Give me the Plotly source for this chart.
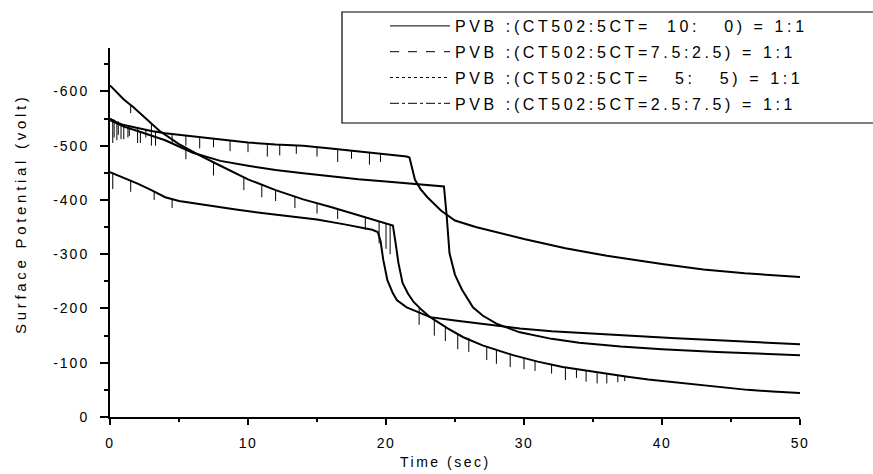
import plotly.graph_objects as go

# ---------------- data ----------------
legend_labels = [
    "PVB :(CT502:5CT=\u00a0\u00a010:\u00a0\u00a0\u00a00) = 1:1",
    "PVB :(CT502:5CT=7.5:2.5) = 1:1",
    "PVB :(CT502:5CT=\u00a0\u00a0\u00a05:\u00a0\u00a0\u00a05) = 1:1",
    "PVB :(CT502:5CT=2.5:7.5) = 1:1",
]
legend_dash = ["solid", "dash", "dot", "dashdot"]

# curve 1 : 10:0
t1 = [0, 0.5, 1, 2, 3, 4, 6, 8, 10, 12, 14, 16, 18, 20, 21.5, 21.7, 21.9, 22.1, 22.5,
      23, 24, 25, 26.5, 28, 30, 33, 36, 40, 43, 46, 50]
v1 = [-550, -543, -538, -532, -527, -523, -517, -511, -506, -502, -500, -495, -490, -485,
      -480, -478, -460, -437, -420, -405, -380, -362, -350, -340, -328, -311, -297, -282,
      -272, -265, -258]
# curve 2 : 7.5:2.5
t2 = [0, 1, 2, 4, 6, 8, 10, 12, 14, 16, 18, 20, 22, 24.2, 24.4, 24.6, 25, 25.5, 26.3, 27,
      28, 29.7, 32, 34, 37, 40, 44, 47, 50]
v2 = [-547, -535, -527, -510, -487, -472, -463, -455, -449, -443, -438, -434, -430, -425,
      -370, -302, -262, -235, -202, -187, -172, -156, -144, -137, -130, -125, -120, -117, -114]
# curve 3 : 5:5
t3 = [0, 0.5, 1, 1.7, 2.5, 3.6, 5, 6.5, 8, 10, 12, 14, 16, 17.5, 19, 20, 20.5, 20.7, 20.9,
      21.2, 21.6, 22, 22.6, 23.2, 24.5, 25.6, 27, 29.2, 31, 32.8, 35, 37.5, 39, 41.3, 44,
      46.2, 48, 50]
v3 = [-611, -597, -585, -571, -552, -527, -503, -482, -463, -438, -418, -401, -387, -376,
      -364, -357, -353, -320, -284, -247, -227, -212, -197, -184, -163, -147, -132, -114,
      -102, -92, -83, -74, -69, -63, -56, -50, -47, -44]
# curve 4 : 2.5:7.5
t4 = [0, 0.5, 1, 2, 3, 4, 5, 7, 9, 11, 13, 15, 17, 19, 19.4, 19.6, 19.8, 20.1, 20.5, 20.8,
      21.5, 22, 23.2, 25, 26.8, 29.7, 32, 34, 36.5, 38.9, 41, 43.7, 47, 50]
v4 = [-451, -446, -440, -430, -418, -405, -398, -390, -383, -376, -370, -364, -355, -345,
      -341, -325, -290, -252, -228, -215, -202, -197, -184, -178, -172, -163, -158, -155,
      -151, -147, -145, -142, -138, -134]

# noise spikes: time, value on the curve, value at the spike tip
spike1_t = [0.3, 0.6, 1.0, 1.4, 2.0, 2.6, 3.3, 4.5, 5.5, 6.5, 7.5, 8.7, 10, 11.4, 12.3, 13.5,
            15, 16.5, 17.5, 18.8, 19.6]
spike1_base = [-548, -545, -540, -537, -532, -530, -526, -521, -518, -515, -512, -510, -506,
               -504, -502, -500, -497, -493, -491, -488, -486]
spike1_tip = [-515, -520, -512, -518, -505, -515, -500, -505, -500, -495, -497, -490, -488,
              -480, -482, -485, -480, -470, -476, -465, -470]
spike3_t = [1.5, 3, 5.5, 7.5, 9.7, 11, 12, 13.4, 15, 16.5, 18.5, 19.5, 20, 20.3,
            22.4, 23.5, 24.3, 25.2, 26, 27.3, 28, 29, 30, 30.8, 32, 33, 33.8, 34.5, 35.3,
            36, 36.8, 37.3]
spike3_base = [-575, -540, -497, -469, -442, -428, -418, -406, -393, -383, -368, -360, -357,
               -355, -200, -181, -168, -154, -146, -130, -124, -116, -109, -104, -98, -92,
               -89, -86, -83, -80, -77, -75]
spike3_tip = [-560, -520, -475, -445, -418, -405, -398, -385, -375, -365, -345, -320, -310,
              -300, -170, -150, -140, -125, -120, -105, -98, -92, -88, -85, -80, -68, -72,
              -65, -62, -62, -64, -66]
spike2_t = [0.2, 0.5, 0.8, 1.3, 2.2, 3.0]
spike2_base = [-546, -542, -538, -533, -526, -520]
spike2_tip = [-505, -510, -512, -515, -505, -500]
spike4_t = [0.2, 1.5, 3.2, 4.5]
spike4_base = [-450, -435, -416, -402]
spike4_tip = [-420, -415, -400, -385]

x_ticks = [0, 10, 20, 30, 40, 50]
y_ticks = [0, -100, -200, -300, -400, -500, -600]

# ---------------- figure ----------------
FONT = "Liberation Sans, Arial, sans-serif"


def spaced(s, px):
    return '<span style="letter-spacing:%spx">%s</span>' % (px, s)


def spikes(ts, bs, tips):
    xs, ys = [], []
    for t, b, p in zip(ts, bs, tips):
        xs += [t, t, None]
        ys += [b, p, None]
    return xs, ys


fig = go.Figure()
for t, v in [(t1, v1), (t2, v2), (t3, v3), (t4, v4)]:
    fig.add_trace(go.Scatter(x=t, y=v, mode="lines", showlegend=False,
                             line=dict(color="black", width=2), hoverinfo="skip"))
for ts, bs, tips in [(spike1_t, spike1_base, spike1_tip), (spike2_t, spike2_base, spike2_tip),
                     (spike3_t, spike3_base, spike3_tip), (spike4_t, spike4_base, spike4_tip)]:
    xs, ys = spikes(ts, bs, tips)
    fig.add_trace(go.Scatter(x=xs, y=ys, mode="lines", showlegend=False,
                             line=dict(color="black", width=1), hoverinfo="skip"))

for i, (lab, dash) in enumerate(zip(legend_labels, legend_dash)):
    fig.add_trace(go.Scatter(x=[None], y=[None], mode="lines", name=spaced(lab, 3.6),
                             legendgroup="g%d" % i,
                             line=dict(color="black", width=1, dash=dash)))

W, H = 873, 474
L, R, T, B = 110, 73, 48, 57
pw, ph = W - L - R, H - T - B


def px_x(px):
    return (px - L) / pw


def px_y(py):
    return (H - B - py) / ph


fig.update_layout(
    width=W, height=H,
    margin=dict(l=L, r=R, t=T, b=B, autoexpand=False),
    paper_bgcolor="white", plot_bgcolor="white",
    font=dict(family=FONT, color="black", size=13),
    showlegend=True,
    legend=dict(x=px_x(385), y=px_y(9), xanchor="left", yanchor="top",
                bgcolor="rgba(0,0,0,0)", borderwidth=0, tracegroupgap=2, itemwidth=60,
                font=dict(family=FONT, size=16, color="black")),
    xaxis=dict(range=[0, 50], showline=True, linecolor="black", linewidth=2,
               showgrid=False, zeroline=False, ticks="outside", ticklen=6, tickwidth=1.5,
               tickcolor="black", tickvals=x_ticks, ticklabelstandoff=6,
               ticktext=[spaced(str(v), 1.5) for v in x_ticks],
               tickfont=dict(family=FONT, size=14),
               minor=dict(dtick=5, ticks="outside", ticklen=3, tickwidth=1.5, tickcolor="black")),
    yaxis=dict(range=[0, -680], showline=True, linecolor="black", linewidth=2,
               showgrid=False, zeroline=False, ticks="outside", ticklen=8, tickwidth=1.5,
               tickcolor="black", tickvals=y_ticks, ticklabelstandoff=8,
               ticktext=[spaced(str(v), 2) for v in y_ticks],
               tickfont=dict(family=FONT, size=14),
               minor=dict(tickvals=[-50, -150, -250, -350, -450, -550, -650], ticks="outside",
                          ticklen=4, tickwidth=1.5, tickcolor="black")),
    shapes=[dict(type="rect", xref="paper", yref="paper",
                 x0=px_x(342), x1=px_x(885), y0=px_y(123), y1=px_y(12),
                 line=dict(color="black", width=1.2), fillcolor="rgba(0,0,0,0)")],
    annotations=[
        dict(text=spaced("Surface Potential (volt)", 3.7), xref="paper", yref="paper",
             x=px_x(20), y=px_y(214), textangle=-90, showarrow=False,
             font=dict(family=FONT, size=15), xanchor="center", yanchor="middle"),
        dict(text=spaced("Time (sec)", 2.5), xref="paper", yref="paper",
             x=px_x(445), y=px_y(462), showarrow=False,
             font=dict(family=FONT, size=14), xanchor="center", yanchor="middle"),
    ],
)

fig.write_html("out.html", config={"displayModeBar": False},
               post_script="document.body.style.margin='0';document.body.style.overflow='hidden';")
